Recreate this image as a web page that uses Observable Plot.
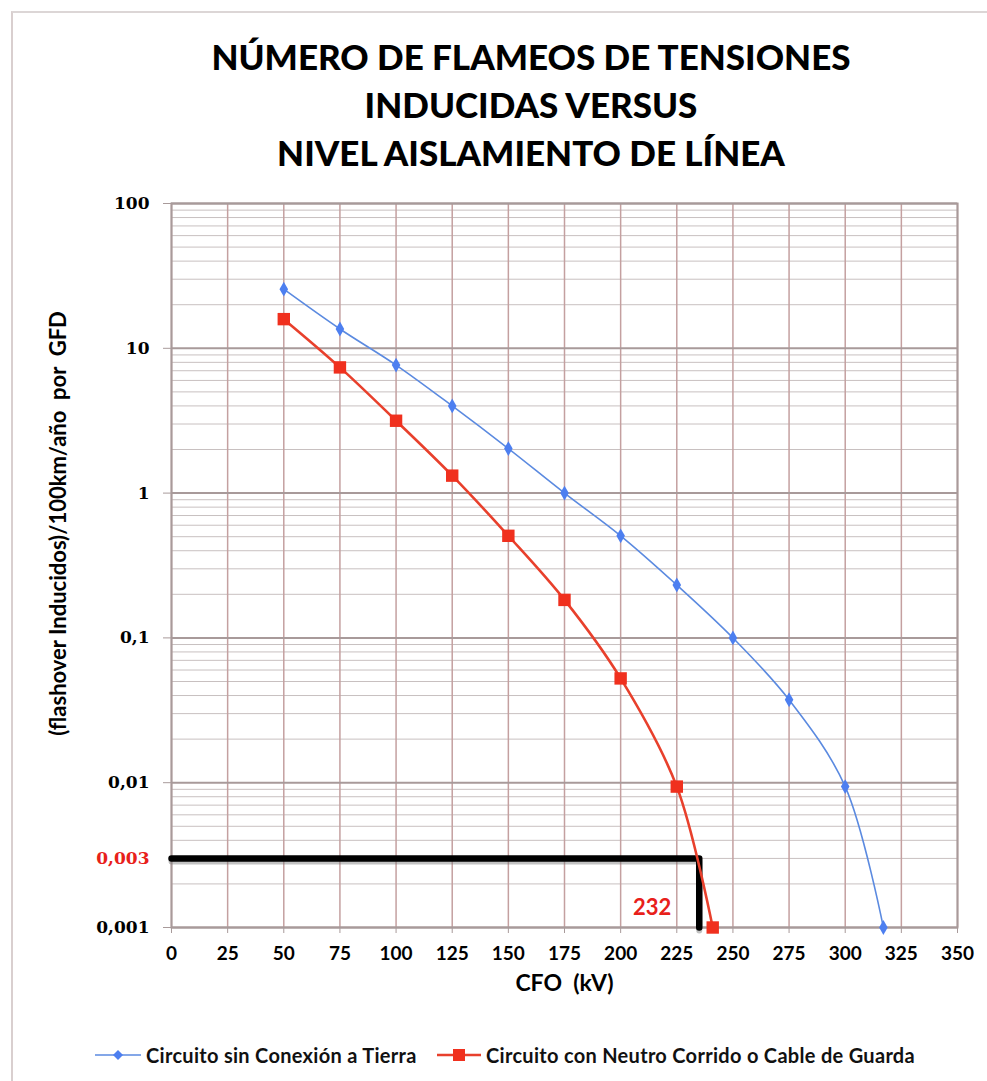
<!DOCTYPE html>
<html><head><meta charset="utf-8">
<script src="https://cdn.jsdelivr.net/npm/d3@7"></script>
<script src="https://cdn.jsdelivr.net/npm/@observablehq/plot@0.6"></script>
<style>
body{margin:0;background:#fff;}
#wrap{position:relative;width:987px;height:1081px;overflow:hidden;font-family:Lato,sans-serif;background:#fff;}
#border{position:absolute;left:11px;top:11px;width:1000px;height:1100px;border-left:2px solid #d9cfcf;border-top:2px solid #dcd6d6;}
#title{position:absolute;left:0;top:32px;width:1062px;text-align:center;font-weight:900;font-size:35px;line-height:48px;color:#000;letter-spacing:0px;}
#chart{position:absolute;left:0;top:170px;}
.leg{position:absolute;top:1043px;height:24px;display:flex;align-items:center;font-size:20px;letter-spacing:0.3px;font-weight:bold;color:#111;}
.leg svg{margin-right:5px;}
</style></head>
<body>
<div id="wrap">
  <div id="border"></div>
  <div id="title">NÚMERO DE FLAMEOS DE TENSIONES<br>INDUCIDAS VERSUS<br>NIVEL AISLAMIENTO DE LÍNEA</div>
  <div id="chart"></div>
  <div class="leg" style="left:95px"><svg width="46" height="14"><line x1="0" y1="7" x2="46" y2="7" stroke="#5b8ae0" stroke-width="1.5"/><path d="M23,2 L28,7 L23,12 L18,7Z" fill="#4d7ff0"/></svg><span id="l1"></span></div>
  <div class="leg" style="left:437px"><svg width="44" height="16"><line x1="0" y1="8" x2="44" y2="8" stroke="#e8402c" stroke-width="2.5"/><rect x="16" y="2" width="12" height="12" fill="#f0301e"/></svg><span id="l2"></span></div>
</div>
<script>
// ---- data ----
const seriesNames = ["Circuito sin Conexión a Tierra", "Circuito con Neutro Corrido o Cable de Guarda"];
const cfoSin = [50, 75, 100, 125, 150, 175, 200, 225, 250, 275, 300, 317];
const valSin = [25.6, 13.6, 7.66, 4.0, 2.03, 1.0, 0.507, 0.232, 0.1, 0.0374, 0.0094, 0.001];
const cfoCon = [50, 75, 100, 125, 150, 175, 200, 225, 241];
const valCon = [15.9, 7.38, 3.16, 1.32, 0.507, 0.183, 0.0525, 0.0094, 0.001];
const xTicks = [0, 25, 50, 75, 100, 125, 150, 175, 200, 225, 250, 275, 300, 325, 350];
const yTicks = [0.001, 0.01, 0.1, 1, 10, 100];
const highlightY = [0.003];
const guideX = [0, 235, 235];
const guideY = [0.003, 0.003, 0.001];
const annotText = ["232"];
const annotX = [214];
const annotY = [0.00137];
const xTitle = "CFO\u00a0\u00a0(kV)";
const yTitle = "(flashover Inducidos)/100km/año\u00a0\u00a0por\u00a0\u00a0GFD";

document.getElementById("l1").textContent = seriesNames[0];
document.getElementById("l2").textContent = seriesNames[1];

const sin = cfoSin.map((x, i) => ({x, y: valSin[i]}));
const con = cfoCon.map((x, i) => ({x, y: valCon[i]}));
const guide = guideX.map((x, i) => ({x, y: guideY[i]}));
const annot = annotText.map((t, i) => ({t, x: annotX[i], y: annotY[i]}));
const minorY = [];
for (let k = 0; k < yTicks.length - 1; k++) for (let m = 2; m <= 9; m++) minorY.push(yTicks[k] * m);
const fmt = d => String(d).replace(".", ",");
const serif = "DejaVu Serif, serif";

const chart = Plot.plot({
  width: 987, height: 840,
  marginLeft: 171, marginRight: 30, marginTop: 33, marginBottom: 83,
  x: {domain: [0, 350]},
  y: {type: "log", domain: [0.001, 100]},
  style: {fontFamily: "Lato, sans-serif", background: "transparent", color: "#000"},
  marks: [
    Plot.ruleY(minorY, {stroke: "#c8c0c0", strokeWidth: 1}),
    Plot.ruleX(xTicks, {stroke: "#c4a0a0", strokeWidth: 1.5}),
    Plot.ruleY(yTicks, {stroke: "#a89a9a", strokeWidth: 2}),
    Plot.frame({stroke: "#a89a9a", strokeWidth: 2}),
    Plot.axisX({ticks: xTicks, tickSize: 6, tickPadding: 13, stroke: "#a89a9a", fontSize: 19, fontWeight: "bold", label: null}),
    Plot.axisY({ticks: yTicks, tickFormat: fmt, tickSize: 8, tickPadding: 14, stroke: "#a89a9a", fontSize: 17, fontWeight: "bold", fontFamily: serif, label: null}),
    Plot.text(highlightY, {y: d => d, text: fmt, frameAnchor: "left", textAnchor: "end", dx: -22, fill: "#e8201a", fontSize: 17, fontWeight: "bold", fontFamily: serif}),
    Plot.text([xTitle], {text: d => d, frameAnchor: "bottom", dy: 63, fontSize: 23, fontWeight: "bold"}),
    Plot.text([yTitle], {text: d => d, frameAnchor: "left", textAnchor: "middle", rotate: -90, dx: -113, dy: -42, fontSize: 22, fontWeight: "bold"}),
    Plot.line(guide, {x: "x", y: "y", stroke: "#777", strokeWidth: 6, strokeOpacity: 0.45, dy: 3}),
    Plot.line(guide, {x: "x", y: "y", stroke: "#000", strokeWidth: 6.5}),
    Plot.line(sin, {x: "x", y: "y", stroke: "#5b8ae0", strokeWidth: 1.6, curve: "catmull-rom"}),
    Plot.dot(sin, {x: "x", y: "y", symbol: "diamond", r: 4.5, fill: "#4d7ff0"}),
    Plot.line(con, {x: "x", y: "y", stroke: "#e8402c", strokeWidth: 2.6, curve: "catmull-rom"}),
    Plot.dot(con, {x: "x", y: "y", symbol: "square", r: 7, fill: "#f0301e"}),
    Plot.text(annot, {x: "x", y: "y", text: "t", fill: "#e8201a", fontSize: 22, fontWeight: "bold"})
  ]
});
document.getElementById("chart").appendChild(chart);
</script>
</body></html>
